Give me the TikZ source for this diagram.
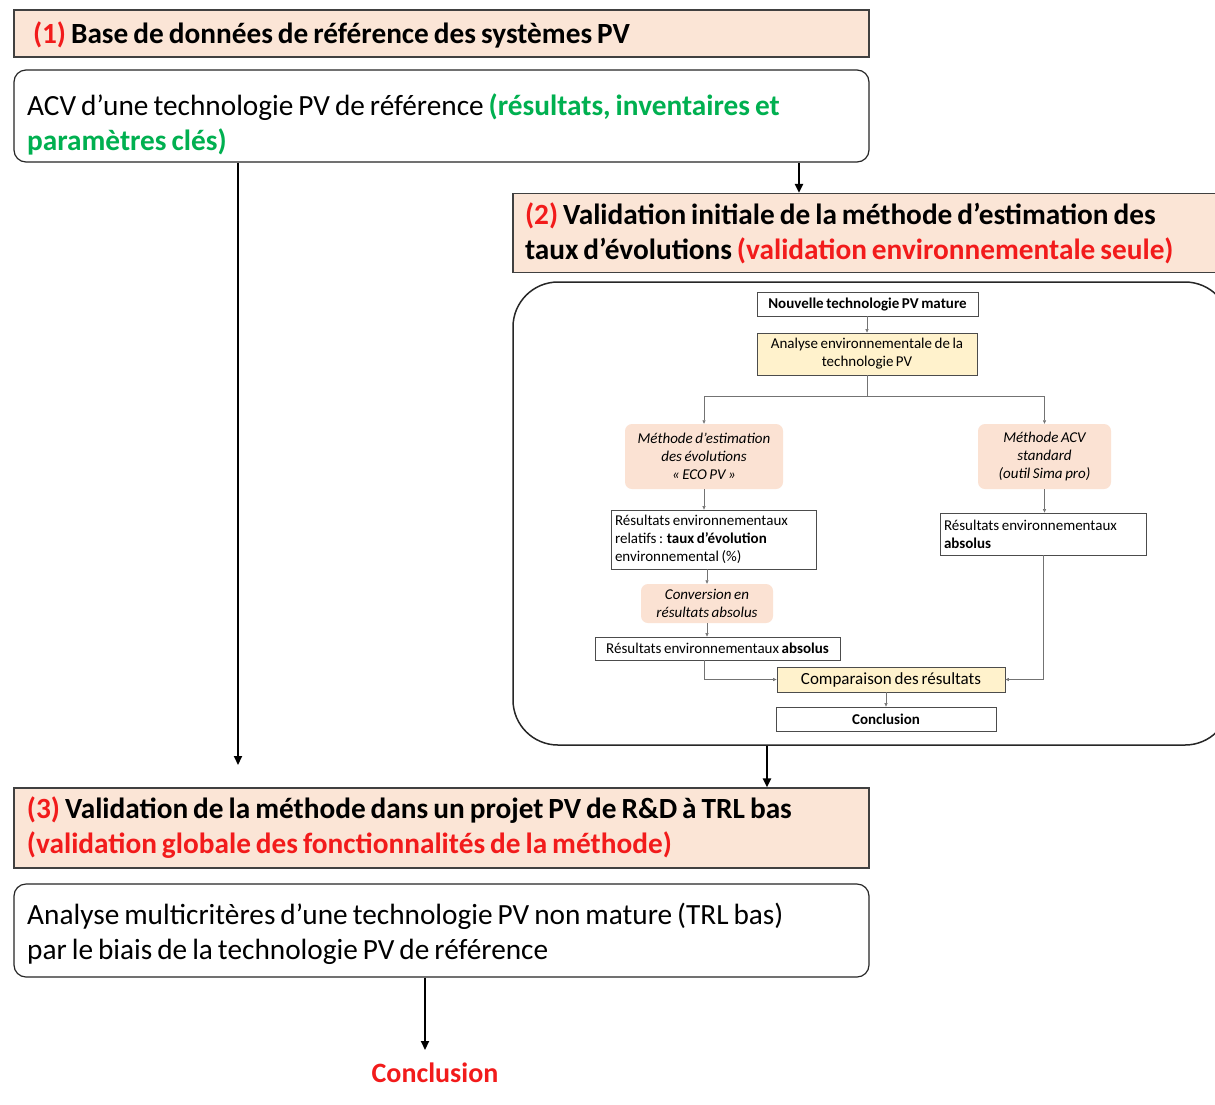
\documentclass[tikz,border=0pt]{standalone}
\usepackage{fontspec}
\setmainfont{Carlito}[WordSpace=0.75]
\usetikzlibrary{arrows.meta}
\definecolor{salmon}{HTML}{FBE5D6}
\definecolor{isalmon}{HTML}{FBE2D3}
\definecolor{pyellow}{HTML}{FFF2CC}
\definecolor{myred}{HTML}{F21B1B}
\definecolor{mygreen}{HTML}{00B050}
\tikzset{
  hdr/.style={draw=black!75, line width=1.2pt, fill=salmon, inner ysep=0pt, align=flush left,
    font=\fontsize{29.3}{35}\selectfont\bfseries},
  wbox/.style={draw=black!85, line width=1.2pt, rounded corners=12pt, fill=white},
  btext/.style={font=\fontsize{29.3}{35}\selectfont, align=left, anchor=west, inner sep=0pt},
  bigarrow/.style={line width=2pt, -{Triangle[length=9pt,width=8pt]}},
  ibox/.style={draw=black!70, line width=0.8pt, fill=white, inner sep=0pt,
    font=\fontsize{15}{18}\selectfont},
  iyel/.style={ibox, fill=pyellow},
  isal/.style={fill=isalmon, rounded corners=7pt, inner sep=0pt, align=center,
    font=\fontsize{15}{18}\selectfont\itshape},
  sarrow/.style={draw=black!55, line width=0.6pt, -{Triangle[length=3.5pt,width=3pt]}},
}
\begin{document}
\begin{tikzpicture}[x=1pt,y=-1pt]
\useasboundingbox (0,0) rectangle (1215,1104);
\fill[white] (0,0) rectangle (1215,1104);

% (1)
\node[hdr, minimum width=855pt, minimum height=47pt, text width=817pt, inner xsep=19pt,
  text height=21pt, text depth=1pt]
  (b1) at (441.5,33.5) {\textcolor{myred}{(1)} Base de données de référence des systèmes PV};
\node[wbox, minimum width=855pt, minimum height=92pt] (acv) at (441.5,116) {};
\node[btext] (acvt) at (27,124) {ACV d’une technologie PV de référence \textcolor{mygreen}{\bfseries(résultats, inventaires et}\\
  \textcolor{mygreen}{\bfseries paramètres clés)}};

% (2)
\node[hdr, minimum width=717pt, minimum height=79pt, text width=693pt, inner xsep=12pt]
  (b2) at (871.5,233) {\textcolor{myred}{(2)} Validation initiale de la méthode d’estimation des\\
  taux d’évolutions \textcolor{myred}{(validation environnementale seule)}};
\node[draw=black!85, line width=1.5pt, rounded corners=45pt, minimum width=717pt,
  minimum height=463pt] (big) at (871.5,513.5) {};

% (3)
\node[hdr, minimum width=855pt, minimum height=80pt, text width=829pt, inner xsep=13pt]
  (b3) at (441.5,828) {\textcolor{myred}{(3)} Validation de la méthode dans un projet PV de R\&D à TRL bas\\
  \textcolor{myred}{(validation globale des fonctionnalités de la méthode)}};
\node[wbox, minimum width=855pt, minimum height=93pt] (mc) at (441.5,930.5) {};
\node[btext] (mct) at (27,934) {Analyse multicritères d’une technologie PV non mature (TRL bas)\\
  par le biais de la technologie PV de référence};
\node[font=\fontsize{28}{32}\selectfont\bfseries, text=myred, inner sep=2pt] (fin) at (435,1073) {Conclusion};

% outer arrows
\coordinate (c1) at (238,765);
\coordinate (c2) at (799,0);
\coordinate (c3) at (767,0);
\coordinate (c4) at (425,1050);
\draw[bigarrow] (acv.south -| c1) -- (c1);
\draw[bigarrow] (acv.south -| c2) -- (b2.north -| c2);
\draw[bigarrow] (big.south -| c3) -- (b3.north -| c3);
\draw[bigarrow] (mc.south -| c4) -- (c4);

% inner flowchart
\node[ibox, minimum width=221pt, minimum height=24pt, font=\fontsize{15}{18}\selectfont\bfseries]
  (nouv) at (867.5,304) {Nouvelle technologie PV mature};
\node[iyel, minimum width=220pt, minimum height=42pt, align=center] (anal) at (867,354)
  {Analyse environnementale de la\\technologie PV};
\node[isal, minimum width=158pt, minimum height=65pt] (m1) at (704,456.5)
  {Méthode d’estimation\\des évolutions\\« ECO PV »};
\node[isal, minimum width=133pt, minimum height=65pt] (m2) at (1044.5,456.5)
  {Méthode ACV\\standard\\(outil Sima pro)};
\node[ibox, minimum width=205pt, minimum height=59pt, text width=197pt, inner xsep=4pt, align=flush left]
  (rel) at (713.5,539.5) {Résultats environnementaux\\relatifs : \textbf{taux d’évolution}\\environnemental (\%)};
\node[isal, minimum width=132pt, minimum height=39pt] (conv) at (707,603.5)
  {Conversion en\\résultats absolus};
\node[ibox, minimum width=245pt, minimum height=23pt] (abs1) at (717.5,648.5)
  {Résultats environnementaux \textbf{absolus}};
\node[ibox, minimum width=206pt, minimum height=42pt, text width=198pt, inner xsep=4pt, align=flush left]
  (abs2) at (1043,534) {Résultats environnementaux\\\textbf{absolus}};
\node[iyel, minimum width=228pt, minimum height=25pt, font=\fontsize{17}{18}\selectfont]
  (comp) at (891,679.5) {Comparaison des résultats};
\node[ibox, minimum width=220pt, minimum height=24pt, font=\fontsize{15}{18}\selectfont\bfseries]
  (concl) at (886,719) {Conclusion};

\coordinate (split) at (867,396);
\draw[sarrow] (nouv.south -| anal) -- (anal.north);
\draw[draw=black!55, line width=0.6pt] (anal.south) -- (split);
\draw[sarrow] (split) -| (m1.north);
\draw[sarrow] (split) -| (m2.north);
\draw[sarrow] (m1.south) -- (m1.south |- rel.north);
\draw[sarrow] (conv.north |- rel.south) -- (conv.north);
\draw[sarrow] (conv.south) -- (conv.south |- abs1.north);
\draw[sarrow] (m2.south) -- (m2.south |- abs2.north);
\draw[sarrow] (abs2.south) |- (comp.east);
\draw[sarrow] (abs1.south -| m1) |- (comp.west);
\draw[sarrow] (concl.north |- comp.south) -- (concl.north);
\end{tikzpicture}
\end{document}
